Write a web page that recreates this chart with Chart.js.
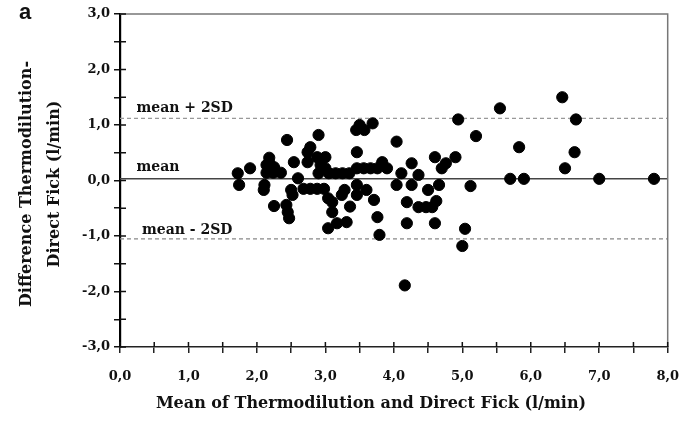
<!DOCTYPE html>
<html>
<head>
<meta charset="utf-8">
<script src="https://cdn.jsdelivr.net/npm/chart.js@4.4.0/dist/chart.umd.min.js"></script>
<style>
  body { margin: 0; background: #fff; }
  #wrap { width: 695px; height: 421px; }
</style>
</head>
<body>
<div id="wrap"><canvas id="baChart" width="695" height="421"></canvas></div>
<script>
// Bland-Altman data: mean of both methods (x) vs difference (y), l/min
const meanValues = [
  1.72, 1.74, 1.90, 2.11, 2.10, 2.14, 2.18, 2.18, 2.25, 2.14,
  2.24, 2.35, 2.25, 2.44, 2.43, 2.45, 2.47, 2.50, 2.52, 2.54,
  2.60, 2.68, 2.78, 2.88, 2.98, 2.74, 2.74, 2.78, 2.90, 2.88,
  3.00, 2.93, 3.00, 2.90, 3.04, 3.10, 3.10, 3.04, 3.17, 3.31,
  3.05, 3.15, 3.25, 3.35, 3.28, 3.24, 3.36, 3.46, 3.46, 3.60,
  3.71, 3.76, 3.79, 3.46, 3.46, 3.56, 3.66, 3.76, 3.83, 3.90,
  3.45, 3.50, 3.57, 3.69, 4.04, 4.04, 4.11, 4.26, 4.36, 4.26,
  4.19, 4.19, 4.16, 4.36, 4.47, 4.56, 4.50, 4.62, 4.66, 4.60,
  4.60, 4.70, 4.76, 4.90, 4.94, 5.04, 5.00, 5.12, 5.20, 5.55,
  5.70, 5.83, 5.90, 6.46, 6.50, 6.64, 6.66, 7.00, 7.80
];
const diffValues = [
  0.13, -0.08, 0.22, -0.08, -0.17, 0.28, 0.41, 0.32, 0.24, 0.14,
  0.14, 0.14, -0.46, 0.73, -0.44, -0.57, -0.68, -0.17, -0.26, 0.33,
  0.04, -0.15, -0.15, -0.15, -0.15, 0.51, 0.33, 0.60, 0.82, 0.42,
  0.42, 0.28, 0.22, 0.13, -0.32, -0.39, -0.57, -0.86, -0.77, -0.75,
  0.13, 0.13, 0.13, 0.13, -0.17, -0.26, -0.47, -0.08, -0.26, -0.17,
  -0.35, -0.66, -0.98, 0.51, 0.22, 0.22, 0.22, 0.22, 0.33, 0.22,
  0.91, 1.00, 0.91, 1.03, 0.70, -0.08, 0.13, 0.31, 0.10, -0.08,
  -0.39, -0.77, -1.89, -0.48, -0.48, -0.48, -0.17, -0.37, -0.08, -0.77,
  0.42, 0.22, 0.31, 0.42, 1.10, -0.87, -1.18, -0.10, 0.80, 1.30,
  0.03, 0.60, 0.03, 1.50, 0.22, 0.51, 1.10, 0.03, 0.03
];

// reference lines
const meanDiff = 0.03;
const upperLimit = 1.12;
const lowerLimit = -1.05;
const lineLabels = ["mean + 2SD", "mean", "mean - 2SD"];

// axes
const xRange = [0, 8];
const yRange = [-3, 3];
const xTitle = "Mean of Thermodilution and Direct Fick (l/min)";
const yTitle = ["Difference Thermodilution-", "Direct Fick (l/min)"];
const panelLabel = "a";

const serif = "'DejaVu Serif', 'Liberation Serif', serif";
const fmt = (v) => (Math.abs(v % 1) < 1e-9 ? v.toFixed(1).replace(".", ",") : "");

const points = meanValues.map((x, i) => ({ x: x, y: diffValues[i] }));
const hLine = (y) => [{ x: xRange[0], y: y }, { x: xRange[1], y: y }];

// frame, inner tick marks, texts
const extras = {
  id: "extras",
  afterDraw(chart) {
    const ctx = chart.ctx;
    const a = chart.chartArea;
    const xs = chart.scales.x;
    const ys = chart.scales.y;
    ctx.save();
    // top and right frame
    ctx.strokeStyle = "#777";
    ctx.lineWidth = 1.5;
    ctx.beginPath();
    ctx.moveTo(a.left, a.top);
    ctx.lineTo(a.right, a.top);
    ctx.lineTo(a.right, a.bottom);
    ctx.stroke();

    // ticks crossing into the plot
    ctx.strokeStyle = "#111";
    ctx.lineWidth = 1.5;
    ctx.beginPath();
    ys.ticks.forEach((t) => {
      const py = ys.getPixelForValue(t.value);
      ctx.moveTo(a.left, py);
      ctx.lineTo(a.left + 6, py);
    });
    xs.ticks.forEach((t) => {
      const px = xs.getPixelForValue(t.value);
      ctx.moveTo(px, a.bottom);
      ctx.lineTo(px, a.bottom - 5);
    });
    ctx.stroke();

    ctx.fillStyle = "#111";
    ctx.font = "bold 14px " + serif;
    ctx.textAlign = "left";
    ctx.textBaseline = "middle";
    ctx.fillText(lineLabels[0], xs.getPixelForValue(0.24), ys.getPixelForValue(upperLimit) - 10);
    ctx.fillText(lineLabels[1], xs.getPixelForValue(0.24), ys.getPixelForValue(meanDiff) - 11);
    ctx.fillText(lineLabels[2], xs.getPixelForValue(0.32), ys.getPixelForValue(lowerLimit) - 8);

    // x title
    ctx.font = "bold 16px " + serif;
    ctx.textAlign = "center";
    ctx.fillText(xTitle, 371, 404);

    // y title (two lines)
    ctx.save();
    ctx.translate(41, 184);
    ctx.rotate(-Math.PI / 2);
    ctx.fillText(yTitle[0], 0, -14);
    ctx.fillText(yTitle[1], 0, 14);
    ctx.restore();

    // panel letter
    ctx.font = "bold 22px 'Liberation Sans', sans-serif";
    ctx.fillText(panelLabel, 25, 13);
    ctx.restore();
  }
};

new Chart(document.getElementById("baChart"), {
  type: "scatter",
  data: {
    datasets: [
      {
        data: points,
        backgroundColor: "#000",
        borderColor: "#000",
        pointRadius: 5.6,
        order: 0
      },
      {
        type: "line",
        data: hLine(meanDiff),
        borderColor: "#444",
        borderWidth: 1.5,
        pointRadius: 0,
        order: 1
      },
      {
        type: "line",
        data: hLine(upperLimit),
        borderColor: "#999",
        borderWidth: 1.3,
        borderDash: [4, 3],
        pointRadius: 0,
        order: 1
      },
      {
        type: "line",
        data: hLine(lowerLimit),
        borderColor: "#888",
        borderWidth: 1.3,
        borderDash: [4, 3],
        pointRadius: 0,
        order: 1
      }
    ]
  },
  options: {
    responsive: false,
    animation: false,
    events: [],
    layout: { padding: { top: 14, right: 15, left: 0, bottom: 0 } },
    plugins: { legend: { display: false }, tooltip: { enabled: false } },
    scales: {
      x: {
        type: "linear",
        min: xRange[0],
        max: xRange[1],
        afterFit: (s) => { s.height = 74; },
        border: { color: "#222", width: 1.5 },
        grid: { drawOnChartArea: false, drawTicks: true, tickLength: 6, color: "#222", lineWidth: 1.5 },
        ticks: {
          stepSize: 0.5,
          autoSkip: false,
          maxRotation: 0,
          padding: 16,
          color: "#111",
          font: { family: serif, size: 13, weight: "bold" },
          callback: fmt
        }
      },
      y: {
        type: "linear",
        min: yRange[0],
        max: yRange[1],
        afterFit: (s) => { s.width = 120; },
        border: { color: "#000", width: 2.2 },
        grid: { drawOnChartArea: false, drawTicks: true, tickLength: 6, color: "#111", lineWidth: 1.5 },
        ticks: {
          stepSize: 0.5,
          autoSkip: false,
          padding: 4,
          color: "#111",
          font: { family: serif, size: 13, weight: "bold" },
          callback: fmt
        }
      }
    }
  },
  plugins: [extras]
});
</script>
</body>
</html>
